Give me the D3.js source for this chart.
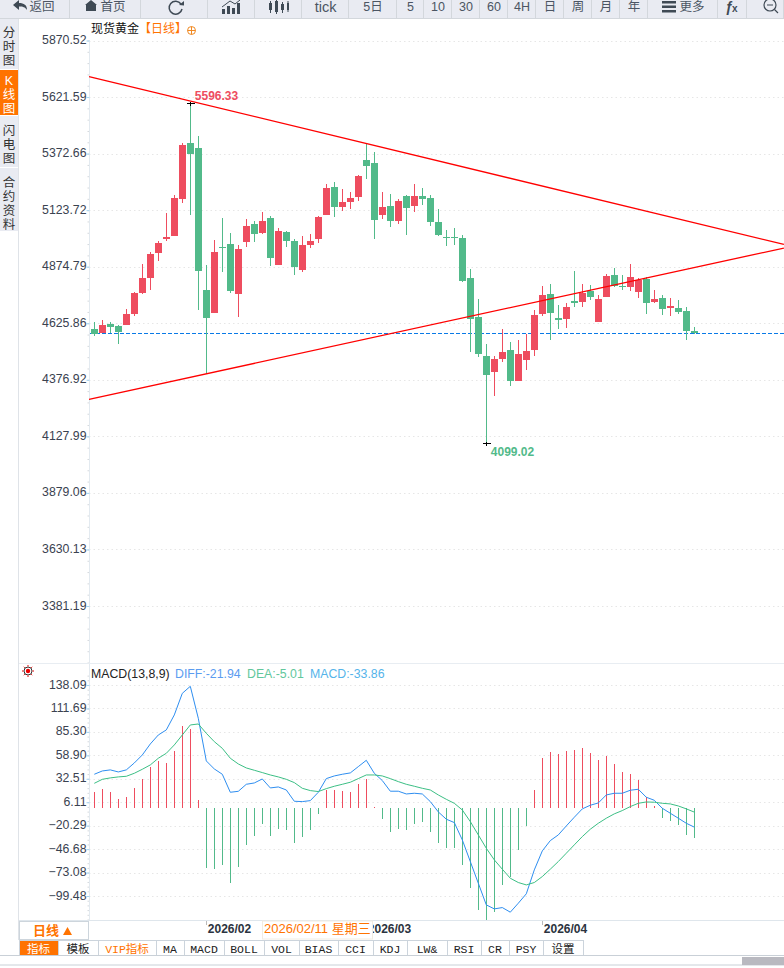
<!DOCTYPE html>
<html>
<head>
<meta charset="utf-8">
<script src="https://cdn.jsdelivr.net/npm/d3@7"></script>
<style>
    html, body { margin: 0; padding: 0; background: #fff; overflow: hidden; }
    svg { display: block; }
    text { font-family: "Liberation Sans", "Noto Sans CJK SC", sans-serif; }
</style>
</head>
<body>
<div id="chart"></div>
<script>
// --- DATA ---
const opens = [4600,4582,4623,4614,4618,4667,4759,4825,4935,4997,5010,5173,5419,5397,4772,4671,4962,4975,4755,4984,
    5063,5023,5089,4882,5028,4988,4860,4970,4997,5102,5226,5138,5160,5182,5344,5331,5102,5142,5076,5186,
    5142,5186,5177,5072,5006,5006,5001,4825,4653,4482,4411,4469,4508,4372,4464,4508,4667,4755,4649,4645,
    4724,4719,4768,4631,4741,4838,4790,4785,4763,4821,4719,4737,4693,4693,4680,4592];
const highs = [4630,4640,4630,4618,4689,4763,4887,4940,4988,5111,5190,5419,5596.33,5450,4882,4992,5089,5023,4970,5085,
    5076,5116,5098,5045,5032,4997,5010,5019,5098,5239,5248,5217,5204,5278,5415,5380,5204,5195,5173,5190,
    5239,5221,5190,5129,5036,5045,5014,4865,4733,4535,4482,4601,4543,4552,4579,4684,4790,4799,4706,4715,
    4856,4799,4794,4750,4843,4869,4838,4887,4825,4829,4772,4750,4737,4728,4697,4609];
const lows = [4570,4581,4582,4535,4618,4658,4755,4772,4900,4988,5010,5155,5102,4684,4403,4671,4852,4759,4653,4962,
    4984,5019,4878,4882,4962,4838,4851,4957,4979,5102,5094,5120,5129,5164,5261,4997,5085,5050,5063,5014,
    5116,5146,5054,5010,4966,4970,4807,4499,4477,4099.02,4306,4455,4350,4372,4420,4482,4658,4552,4601,4605,
    4697,4697,4728,4631,4741,4785,4772,4768,4737,4667,4715,4662,4658,4667,4552,4579];
const closes = [4580,4618,4609,4587,4667,4759,4825,4931,4979,5006,5177,5411,5371,4856,4649,4940,4959,4768,4953,5054,
    5019,5076,4913,5032,4988,4873,4970,4988,5094,5221,5138,5160,5177,5274,5318,5080,5138,5076,5164,5133,
    5186,5173,5072,5014,5001,5001,4812,4645,4491,4398,4469,4499,4372,4491,4504,4662,4750,4671,4640,4697,
    4715,4759,4741,4733,4834,4790,4785,4829,4816,4715,4733,4689,4702,4675,4592,4583];

const diff = [37.6,41.3,42.5,40.2,42.5,50.3,59.3,71.7,81.8,87.5,104.4,128.7,136.6,100.6,52.6,43.6,37.6,17.3,18.4,26.3,
    27.8,32.3,22.2,23.3,19.9,7.2,6.8,7.9,17.3,32.7,35.7,37.6,39.1,46.2,53.3,38.7,30.5,18.5,18.5,15.4,
    16.2,15.4,6.8,-4.8,-13,-16.8,-36.3,-60.7,-85.1,-109.5,-114,-112.5,-117.7,-107.6,-97,-70.1,-48.7,-37.1,-30.7,-20.6,
    -10.8,-1.4,2.7,5.3,14.3,16.2,16.2,19.6,20.7,11.7,8.3,-0.7,-6.3,-11.9,-17.6,-21.94];
const dea = [27.4,31.9,33.5,34.6,35.3,38.7,43.2,48.1,55.6,61.2,70.6,81.8,93.1,94.2,83.7,74.3,66.8,55.6,49.2,44.7,
    42.1,39.5,36.8,34.6,31.9,28.2,21.8,19.2,18.1,21.4,24.1,26.3,28.6,32.7,36.8,36.8,35.7,32.7,29.3,26.3,
    24.1,21.8,19.9,14.3,9.4,4.9,-2.6,-15.7,-30.7,-45.7,-58.8,-69.3,-79.5,-84.3,-87,-84.3,-77.6,-69.3,-60.7,-51.3,
    -41.9,-32.6,-24.3,-17.6,-11.9,-7,-3.3,1.2,4.9,6.4,6.1,4.9,4.2,1.9,-1.4,-5.01];
const hist = [17.7,21.1,17.7,9.8,12.1,22.2,32.3,45.8,52.6,50.3,63.8,92,88.6,8.7,-67.8,-69,-64.5,-84.7,-66.7,-42,
    -31.8,-18.3,-31.8,-23.9,-25.1,-39.7,-32.9,-25.1,-7.1,19.9,19.9,18.8,17.7,26.7,32.3,0.8,-12.7,-27.3,-23.9,-25.1,
    -18.3,-16.1,-27.3,-39.7,-45.3,-45.3,-64.5,-90.3,-115,-126.4,-117.4,-87,-78,-47.6,-20.6,19.9,55.9,62.7,60.5,63.8,
    65,67.2,61.6,53.7,58.2,49.2,40.2,37.9,31.2,12.1,2,-11.6,-14.9,-19.4,-30.7,-33.86];

const priceTicks = [5870.52,5621.59,5372.66,5123.72,4874.79,4625.86,4376.92,4127.99,3879.06,3630.13,3381.19];
const macdTicks = [138.09,111.69,85.30,58.90,32.51,6.11,-20.29,-46.68,-73.08,-99.48];
const monthIndex = [14, 34, 56];
const monthLabels = ['2026/02', '2026/03', '2026/04'];

// trend lines, [bar index, price]
const upperTrend = [[-0.66, 5712], [86.2, 4973]];
const lowerTrend = [[-0.66, 4291], [86.2, 4957]];

const topButtons = ['返回','首页','','','','tick','5日','5','10','30','60','4H','日','周','月','年','更多','',''];
const topEdges = [0,70,141,208,255,302,349,397,424,452,480,508,536,564,592,620,648,718,747,784];
const sideTabs = [['分','时','图'],['K','线','图'],['闪','电','图'],['合','约','资','料']];
const sideEdges = [19,70,116,168,232];
const sideTextY = [37,85,135,187];
const bottomTabs = ['指标','模板','VIP指标','MA','MACD','BOLL','VOL','BIAS','CCI','KDJ','LW&','RSI','CR','PSY','设置'];
const bottomEdges = [19,58,98,156,184,224,264,299,338,373,407,447,481,509,543,583];

// --- COLORS ---
const upColor = '#ee4d5f', downColor = '#52ba8a', orange = '#ff7300';
const axisColor = '#e3eaf0', gridColor = '#e6e6e6', tabBg = '#e9ebf2', tabLine = '#ccd4dc';

const svg = d3.select('#chart').append('svg').attr('width', 784).attr('height', 968);

// --- SCALES ---
const x = d3.scaleLinear().domain([0, 75]).range([94.3, 694.3]);
const yPrice = d3.scaleLinear().domain([3381.19, 5870.52]).range([606, 40.5]);
const yMacd = d3.scaleLinear().domain([-99.48, 138.09]).range([896, 685]);
const bars = d3.range(opens.length);
const crisp = v => Math.round(v) + 0.5;

function drawAxis(scale, ticks, top, bottom) {
    const step = ticks[0] - ticks[1];
    const minor = d3.range(-2, ticks.length * 5 + 10)
        .map(k => ticks[0] - k * step / 5)
        .filter(v => scale(v) > top && scale(v) < bottom);

    svg.append('g').attr('class', 'grid').selectAll('line').data(ticks).join('line')
        .attr('x1', 89).attr('x2', 784)
        .attr('y1', d => crisp(scale(d))).attr('y2', d => crisp(scale(d)))
        .attr('stroke', gridColor).attr('stroke-dasharray', '1.5,3');

    svg.append('g').attr('transform', 'translate(89.5,0)')
        .call(d3.axisLeft(scale).tickValues(minor).tickSize(2).tickFormat(''))
        .call(g => g.select('.domain').remove())
        .selectAll('line').attr('stroke', '#d5d9dd');

    svg.append('line').attr('x1', 89.5).attr('x2', 89.5).attr('y1', top).attr('y2', bottom).attr('stroke', axisColor);

    svg.append('g').attr('transform', 'translate(89.5,0)')
        .call(d3.axisLeft(scale).tickValues(ticks).tickSize(3).tickPadding(0).tickFormat(d3.format('.2f')))
        .call(g => g.select('.domain').remove())
        .call(g => g.selectAll('line').attr('stroke', '#a8d4f0'))
        .call(g => g.selectAll('text')
            .attr('fill', '#3a4250').attr('font-size', 12.3).attr('dy', '0.25em')
            .attr('font-family', '"Liberation Sans", sans-serif'));
}

// --- 1. PRICE PANEL ---
drawAxis(yPrice, priceTicks, 40, 663);

const lastY = crisp(yPrice(closes[closes.length - 1]));
svg.append('line').attr('x1', 90).attr('x2', 784).attr('y1', lastY).attr('y2', lastY)
    .attr('stroke', '#0a7ae6').attr('stroke-width', 1).attr('stroke-dasharray', '4,2')
    .attr('shape-rendering', 'crispEdges');

const candles = svg.append('g').attr('shape-rendering', 'crispEdges').selectAll('g').data(bars).join('g')
    .attr('fill', i => closes[i] >= opens[i] ? upColor : downColor)
    .attr('stroke', i => closes[i] >= opens[i] ? upColor : downColor);
candles.append('line')
    .attr('x1', i => crisp(x(i))).attr('x2', i => crisp(x(i)))
    .attr('y1', i => yPrice(highs[i])).attr('y2', i => yPrice(lows[i]))
    .attr('stroke-width', 1);
candles.append('rect')
    .attr('x', i => Math.round(x(i)) - 3).attr('width', 7)
    .attr('y', i => yPrice(Math.max(opens[i], closes[i])))
    .attr('height', i => Math.max(1, Math.abs(yPrice(opens[i]) - yPrice(closes[i]))))
    .attr('stroke', 'none');

const trendLine = d3.line().x(d => x(d[0])).y(d => yPrice(d[1]));
[upperTrend, lowerTrend].forEach(t => {
    svg.append('path').datum(t).attr('d', trendLine)
        .attr('fill', 'none').attr('stroke', '#f00').attr('stroke-width', 1.3);
});

// high / low markers
const hiIdx = d3.maxIndex(highs), loIdx = d3.minIndex(lows);
[[hiIdx, highs[hiIdx]], [loIdx, lows[loIdx]]].forEach(([i, v]) => {
    const px = crisp(x(i)), py = crisp(yPrice(v));
    svg.append('path').attr('d', `M${px - 4} ${py}H${px + 4}M${px} ${py - 2}V${py + 2}`)
        .attr('stroke', '#000').attr('shape-rendering', 'crispEdges');
});
svg.append('text').attr('x', x(hiIdx) + 4.5).attr('y', yPrice(highs[hiIdx]) - 3)
    .attr('fill', upColor).attr('font-size', 12).attr('font-weight', 'bold').text(highs[hiIdx].toFixed(2));
svg.append('text').attr('x', x(loIdx) + 4.5).attr('y', yPrice(lows[loIdx]) + 13)
    .attr('fill', downColor).attr('font-size', 12).attr('font-weight', 'bold').text(lows[loIdx].toFixed(2));

// title
const title = svg.append('text').attr('x', 91).attr('y', 33).attr('font-size', 12);
title.append('tspan').attr('fill', '#111').text('现货黄金');
title.append('tspan').attr('fill', orange).text('【日线】');
svg.append('circle').attr('cx', 191.5).attr('cy', 30.5).attr('r', 4).attr('fill', 'none').attr('stroke', '#f08a24');
svg.append('path').attr('d', 'M187.5 30.5H195.5M191.5 26.5V34.5').attr('stroke', '#f08a24');

// --- 2. MACD PANEL ---
svg.append('line').attr('x1', 19).attr('x2', 784).attr('y1', 663.5).attr('y2', 663.5).attr('stroke', '#e8edf2');
drawAxis(yMacd, macdTicks, 664, 920);

svg.append('g').attr('shape-rendering', 'crispEdges').selectAll('line').data(bars).join('line')
    .attr('x1', i => crisp(x(i))).attr('x2', i => crisp(x(i)))
    .attr('y1', yMacd(0)).attr('y2', i => yMacd(hist[i]))
    .attr('stroke', i => hist[i] >= 0 ? upColor : downColor).attr('stroke-width', 1);

const macdLine = key => d3.line().x((d, i) => x(i)).y(d => yMacd(d))(key);
svg.append('path').attr('d', macdLine(diff)).attr('fill', 'none').attr('stroke', '#2e8ef0').attr('stroke-width', 1);
svg.append('path').attr('d', macdLine(dea)).attr('fill', 'none').attr('stroke', '#3cbf85').attr('stroke-width', 1);

const macdLegend = [['MACD(13,8,9)', '#222', 91], ['DIFF:-21.94', '#5b9cf0', 175], ['DEA:-5.01', '#62c79c', 247], ['MACD:-33.86', '#55b4ea', 310]];
svg.append('g').selectAll('text').data(macdLegend).join('text')
    .attr('x', d => d[2]).attr('y', 678).attr('fill', d => d[1]).attr('font-size', 12.3).text(d => d[0]);

// target icon
svg.append('circle').attr('cx', 28).attr('cy', 671).attr('r', 4).attr('fill', 'none').attr('stroke', '#333');
svg.append('circle').attr('cx', 28).attr('cy', 671).attr('r', 2.2).attr('fill', '#e00');
svg.append('path').attr('d', 'M22 671H23.5M32.5 671H34M28 665V666.5M28 675.5V677M23.8 666.8L24.8 667.8M31.2 674.2L32.2 675.2M32.2 666.8L31.2 667.8M24.8 674.2L23.8 675.2')
    .attr('stroke', '#e00');

// --- 3. DATE AXIS ---
svg.append('line').attr('x1', 19).attr('x2', 784).attr('y1', 920.5).attr('y2', 920.5).attr('stroke', '#dfe6ec');
svg.append('g').selectAll('line').data(monthIndex).join('line')
    .attr('x1', d => crisp(x(d))).attr('x2', d => crisp(x(d))).attr('y1', 921).attr('y2', 925).attr('stroke', '#bbb');
svg.append('g').selectAll('text').data(monthIndex).join('text')
    .attr('x', d => x(d) + 1.5).attr('y', 933).attr('fill', '#2b3340')
    .attr('font-size', 12).attr('font-weight', 'bold').text((d, i) => monthLabels[i]);

svg.append('rect').attr('x', 262.5).attr('y', 921).attr('width', 110).attr('height', 18)
    .attr('fill', '#fff').attr('stroke', '#f1ece2');
svg.append('text').attr('x', 264).attr('y', 933).attr('fill', orange).attr('font-size', 13).text('2026/02/11 星期三');

svg.append('rect').attr('x', 19.5).attr('y', 921.5).attr('width', 69).attr('height', 18)
    .attr('fill', '#fff').attr('stroke', '#cdd5dc');
svg.append('text').attr('x', 33).attr('y', 935).attr('fill', orange).attr('font-size', 13).attr('font-weight', 'bold').text('日线');
svg.append('path').attr('d', 'M63 935L67.5 927L72 935Z').attr('fill', orange);

// --- 4. BOTTOM TABS ---
bottomTabs.forEach((t, i) => {
    const x0 = bottomEdges[i], x1 = bottomEdges[i + 1];
    svg.append('rect').attr('x', x0 + 0.5).attr('y', 940.5).attr('width', x1 - x0).attr('height', 15)
        .attr('fill', i === 0 ? orange : '#fff').attr('stroke', tabLine);
    svg.append('text').attr('x', (x0 + x1) / 2).attr('y', 952.5).attr('text-anchor', 'middle')
        .attr('font-size', 11.5)
        .style('font-family', '"Liberation Mono", "Noto Sans CJK SC", monospace')
        .attr('fill', i === 0 ? '#fff' : i === 2 ? orange : '#222').text(t);
});
svg.append('line').attr('x1', 0).attr('x2', 784).attr('y1', 955.5).attr('y2', 955.5).attr('stroke', '#c9d0d7');
svg.append('line').attr('x1', 0).attr('x2', 784).attr('y1', 965).attr('y2', 965).attr('stroke', '#c9d0d7');
svg.append('rect').attr('x', 742).attr('y', 957).attr('width', 42).attr('height', 8).attr('fill', '#b9b9c0');

// --- 5. SIDE TABS ---
svg.append('line').attr('x1', 18.5).attr('x2', 18.5).attr('y1', 18).attr('y2', 940).attr('stroke', '#dfe3e8');
sideTabs.forEach((chars, i) => {
    const y0 = sideEdges[i], y1 = sideEdges[i + 1];
    svg.append('rect').attr('x', 0).attr('y', y0).attr('width', 18).attr('height', y1 - y0 - 1)
        .attr('fill', i === 1 ? orange : tabBg);
    chars.forEach((c, k) => {
        svg.append('text').attr('x', 9).attr('y', sideTextY[i] + k * 14).attr('text-anchor', 'middle')
            .attr('font-size', 12.5).attr('fill', i === 1 ? '#fff' : '#333').text(c);
    });
});

// --- 6. TOP TOOLBAR ---
topButtons.forEach((t, i) => {
    const x0 = topEdges[i], x1 = topEdges[i + 1];
    svg.append('rect').attr('x', x0).attr('y', 0).attr('width', x1 - x0 - 1).attr('height', 18).attr('fill', tabBg);
    svg.append('rect').attr('x', x0).attr('y', 18).attr('width', x1 - x0 - 1).attr('height', 1).attr('fill', '#d3d7dc');
    svg.append('rect').attr('x', x1 - 1).attr('y', 0).attr('width', 1).attr('height', 19).attr('fill', '#d3d7dc');
    const anchored = i === 0 ? 42 : i === 1 ? 113 : i === 16 ? 692 : (x0 + x1) / 2;
    svg.append('text').attr('x', anchored).attr('y', i === 5 ? 12 : 11).attr('text-anchor', 'middle')
        .attr('font-size', i === 5 ? 14.5 : 12.5).attr('fill', '#4b5563').text(t);
});

const icon = '#3f4a55';
svg.append('path').attr('d', 'M13 5L19 0V3C24 3 27 5 27 10C25 7 23 6.5 19 6.5V10Z').attr('fill', icon);
svg.append('path').attr('d', 'M85 5L91 0L97 5H96V11H86V5Z').attr('fill', icon);
svg.append('path').attr('d', 'M181 4A6.5 6.5 0 1 0 182 9').attr('fill', 'none').attr('stroke', icon).attr('stroke-width', 1.5);
svg.append('path').attr('d', 'M179 5L184 5.5L184 1Z').attr('fill', icon);
svg.append('path').attr('d', 'M222 14h3v-5h-3zM227 14h3v-8h-3zM232 14h3v-6h-3zM237 14h3v-11h-3z').attr('fill', icon);
svg.append('path').attr('d', 'M222 7L230 1L235 4L240 0').attr('fill', 'none').attr('stroke', icon);
svg.append('path').attr('d', 'M269 3h3v7h-3zM275 1h3v11h-3zM281 4h3v6h-3zM287 3h2v7h-2z').attr('fill', icon);
svg.append('path').attr('d', 'M270.5 1V13M276.5 -1V14M282.5 2V13M288 1V12').attr('stroke', icon);
svg.append('path').attr('d', 'M662 1h14v2.5h-14zM662 5.5h14v2.5h-14zM662 10h14v2.5h-14z').attr('fill', icon);
svg.append('text').attr('x', 725).attr('y', 12).attr('font-size', 14).attr('font-weight', 'bold')
    .attr('font-style', 'italic').attr('fill', icon).text('ƒ');
svg.append('text').attr('x', 732).attr('y', 12).attr('font-size', 10).attr('font-weight', 'bold').attr('fill', icon).text('x');
svg.append('circle').attr('cx', 770).attr('cy', 5).attr('r', 6).attr('fill', 'none').attr('stroke', icon).attr('stroke-width', 1.2);
svg.append('path').attr('d', 'M767 5H773M774.5 9.5L778 13').attr('stroke', icon).attr('stroke-width', 1.2);
</script>
</body>
</html>
